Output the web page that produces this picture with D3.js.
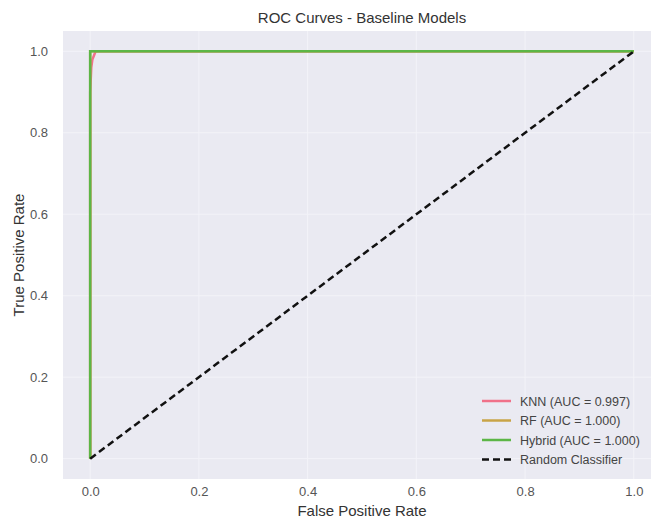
<!DOCTYPE html>
<html>
<head>
<meta charset="utf-8">
<script src="https://cdn.jsdelivr.net/npm/d3@7"></script>
<style>
  body { margin: 0; background: #fff; }
  svg { font-family: "Liberation Sans", Arial, sans-serif; }
  .tick text { fill: #555; font-size: 13px; }
</style>
</head>
<body>
<div id="chart"></div>
<script>
// ROC curve points
const knnFpr = [0, 0, 0.002, 0.004, 0.007, 0.01, 1];
const knnTpr = [0, 0.9, 0.96, 0.98, 0.99, 1, 1];
const rfFpr = [0, 0, 1];
const rfTpr = [0, 1, 1];
const hybridFpr = [0, 0, 1];
const hybridTpr = [0, 1, 1];
const randomFpr = [0, 1];
const randomTpr = [0, 1];

const seriesNames = ["KNN (AUC = 0.997)", "RF (AUC = 1.000)", "Hybrid (AUC = 1.000)", "Random Classifier"];
const tickValues = [0, 0.2, 0.4, 0.6, 0.8, 1.0];

const W = 651, H = 519;
const margin = { top: 31, right: -10, bottom: 40, left: 63 };

const svg = d3.select("#chart").append("svg")
  .attr("width", W)
  .attr("height", H);

const x = d3.scaleLinear().domain([-0.05, 1.05]).range([margin.left, W - margin.right]);
const y = d3.scaleLinear().domain([-0.05, 1.05]).range([H - margin.bottom, margin.top]);

// background
svg.append("rect")
  .attr("x", x(-0.05)).attr("y", y(1.05))
  .attr("width", x(1.05) - x(-0.05))
  .attr("height", y(-0.05) - y(1.05))
  .attr("fill", "#eaeaf2");

// grid (faint)
svg.append("g").selectAll("line")
  .data(tickValues).join("line")
    .attr("x1", d => x(d)).attr("x2", d => x(d))
    .attr("y1", y(1.05)).attr("y2", y(-0.05))
    .attr("stroke", "#f3f3f8").attr("stroke-width", 1);
svg.append("g").selectAll("line")
  .data(tickValues).join("line")
    .attr("y1", d => y(d)).attr("y2", d => y(d))
    .attr("x1", x(-0.05)).attr("x2", x(1.05))
    .attr("stroke", "#f3f3f8").attr("stroke-width", 1);

// axes (no tick marks, no domain, like seaborn darkgrid)
const xAxis = svg.append("g")
  .attr("transform", `translate(0,${y(-0.05)})`)
  .call(d3.axisBottom(x).tickValues(tickValues).tickFormat(d3.format(".1f")).tickSize(0).tickPadding(8));
xAxis.select(".domain").remove();

const yAxis = svg.append("g")
  .attr("transform", `translate(${x(-0.05)},0)`)
  .call(d3.axisLeft(y).tickValues(tickValues).tickFormat(d3.format(".1f")).tickSize(0).tickPadding(15));
yAxis.select(".domain").remove();

// lines
const toPts = (fx, ty) => fx.map((f, i) => [f, ty[i]]);
const line = d3.line().x(d => x(d[0])).y(d => y(d[1]));

const series = [
  { name: seriesNames[0], pts: toPts(knnFpr, knnTpr), color: "#f07189", dash: null },
  { name: seriesNames[1], pts: toPts(rfFpr, rfTpr), color: "#c9a447", dash: null },
  { name: seriesNames[2], pts: toPts(hybridFpr, hybridTpr), color: "#5cb646", dash: null },
  { name: seriesNames[3], pts: toPts(randomFpr, randomTpr), color: "#111", dash: "7,4" }
];

svg.append("g").selectAll("path")
  .data(series).join("path")
    .attr("d", d => line(d.pts))
    .attr("fill", "none")
    .attr("stroke", d => d.color)
    .attr("stroke-width", 2.5)
    .attr("stroke-dasharray", d => d.dash);

// legend
const legend = svg.append("g").attr("transform", "translate(482,401)");
const item = legend.selectAll("g")
  .data(series).join("g")
    .attr("transform", (d, i) => `translate(0,${i * 19.5})`);
item.append("line")
  .attr("x1", 0).attr("x2", 29)
  .attr("stroke", d => d.color)
  .attr("stroke-width", 2.5)
  .attr("stroke-dasharray", d => d.dash);
item.append("text")
  .attr("x", 38).attr("y", 4.5)
  .attr("font-size", "12.5px")
  .attr("fill", "#444")
  .text(d => d.name);

// title and labels
svg.append("text")
  .attr("x", 362).attr("y", 23)
  .attr("text-anchor", "middle")
  .attr("font-size", "15px").attr("fill", "#333")
  .text("ROC Curves - Baseline Models");

svg.append("text")
  .attr("x", x(0.5)).attr("y", 516)
  .attr("text-anchor", "middle")
  .attr("font-size", "15px").attr("fill", "#333")
  .text("False Positive Rate");

svg.append("text")
  .attr("transform", `translate(24,${y(0.5)}) rotate(-90)`)
  .attr("text-anchor", "middle")
  .attr("font-size", "15px").attr("fill", "#333")
  .text("True Positive Rate");
</script>
</body>
</html>
